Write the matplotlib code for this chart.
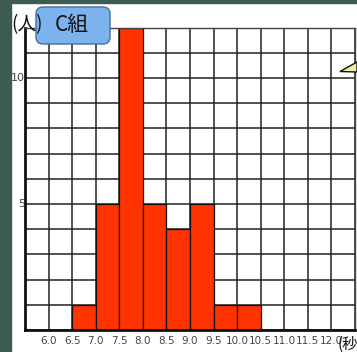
import numpy as np
import matplotlib
matplotlib.use("Agg")
import matplotlib.pyplot as plt
from matplotlib.patches import Rectangle, FancyBboxPatch, Polygon

plt.rcParams['font.family'] = ['Noto Sans CJK JP', 'DejaVu Sans']

# data
bin_edges = [6.5, 7.0, 7.5, 8.0, 8.5, 9.0, 9.5, 10.0, 10.5]
counts = [1, 5, 12, 5, 4, 5, 1, 1]
x_ticks = [6.0, 6.5, 7.0, 7.5, 8.0, 8.5, 9.0, 9.5, 10.0, 10.5, 11.0, 11.5, 12.0]
y_ticks = [5, 10]
title = "C組"
y_unit = "(人)"
x_unit = "(秒)"

W, H = 357, 352
fig = plt.figure(figsize=(W / 100, H / 100), dpi=100)
fig.patch.set_facecolor('white')

def px(x0, y0, x1, y1):
    # pixel box (from top-left) -> figure fraction rect
    return [x0 / W, 1 - y1 / H, (x1 - x0) / W, (y1 - y0) / H]

### dark strips on left and top
g = '#3d5b4f'
fig.patches.append(Rectangle((0, 0), 11 / W, 1, transform=fig.transFigure, color=g, zorder=0))
fig.patches.append(Rectangle((0, 1 - 3 / H), 1, 3 / H, transform=fig.transFigure, color=g, zorder=0))

ax = fig.add_axes(px(25, 27.5, 355, 330))
ax.set_xlim(5.5, 12.5)
ax.set_ylim(0, 12)

### grid
for xv in np.arange(5.5, 12.51, 0.5):
    ax.axvline(xv, color='#222222', lw=1.1, zorder=1)
for yv in range(0, 13):
    ax.axhline(yv, color='#222222', lw=1.1, zorder=1)

### bars
lefts = bin_edges[:-1]
widths = np.diff(bin_edges)
ax.bar(lefts, counts, width=widths, align='edge', color='#ff3300',
       edgecolor='#111111', linewidth=0.9, zorder=2)

for s in ['top', 'right']:
    ax.spines[s].set_color('#444444')
    ax.spines[s].set_linewidth(1.0)
for s in ['left', 'bottom']:
    ax.spines[s].set_color('#111111')
    ax.spines[s].set_linewidth(2.0)

ax.set_xticks(x_ticks)
ax.set_xticklabels([f"{v:.1f}" for v in x_ticks], family='Liberation Sans Narrow',
                   fontsize=7.5, color='#444444')
ax.set_yticks(y_ticks)
ax.set_yticklabels([str(v) for v in y_ticks], family='Liberation Sans Narrow',
                   fontsize=8, color='#444444', va='center')
ax.tick_params(length=0, pad=4)
ax.tick_params(axis='y', pad=0)

### unit labels and title box
fig.text(338 / W, 1 - 344 / H, x_unit, fontsize=11, ha='left', va='center', color='#111111')

box = FancyBboxPatch((36 / W, 1 - 44 / H), 74 / W, 37 / H, transform=fig.transFigure,
                     boxstyle='round,pad=0,rounding_size=0.02', facecolor='#7db3ec',
                     edgecolor='#3f6f9f', linewidth=1.0, zorder=5)
fig.patches.append(box)
fig.text(72 / W, 1 - 25 / H, title, fontsize=15, ha='center', va='center', color='#111111', zorder=6)
fig.text(11 / W, 1 - 25 / H, y_unit, fontsize=13.5, ha='left', va='center', color='#111111', zorder=7)

### callout pointer at right
tri = Polygon([(340 / W, 1 - 71.5 / H), (357 / W, 1 - 62 / H), (357 / W, 1 - 72 / H)],
              closed=True, transform=fig.transFigure, facecolor='#f4efa0',
              edgecolor='#111111', linewidth=1.0, zorder=5)
fig.patches.append(tri)

fig.savefig('out.png', dpi=100)
